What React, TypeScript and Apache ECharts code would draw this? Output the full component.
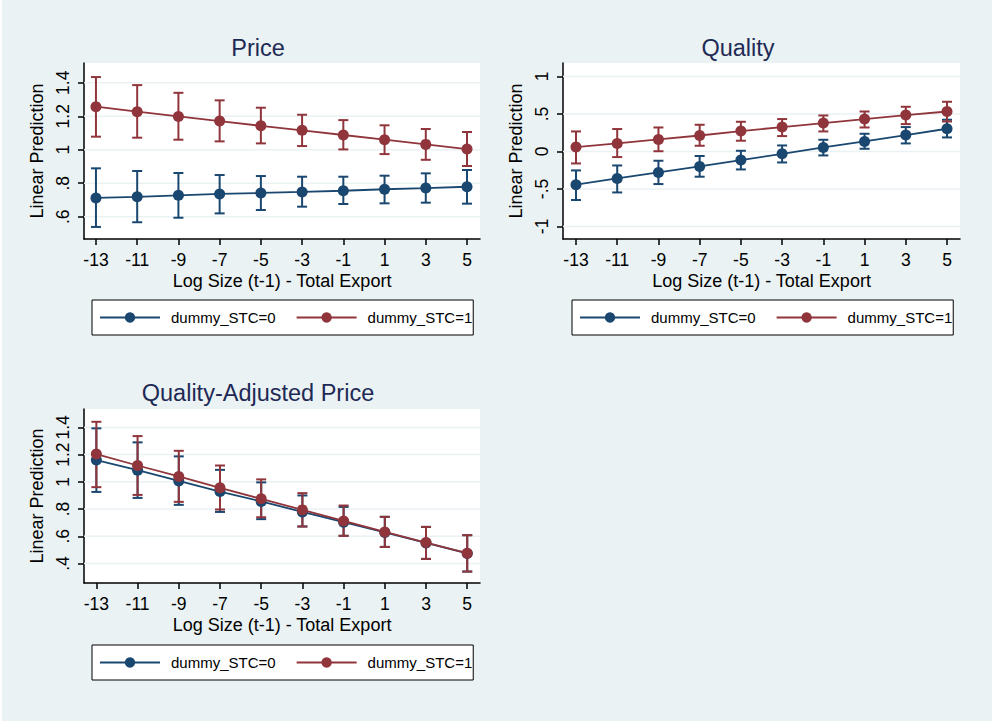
import React, { useEffect, useRef } from "react";
import * as echarts from "echarts";

// Margins at each level of log size (t-1)
const xValues = [-13, -11, -9, -7, -5, -3, -1, 1, 3, 5];

// Price
const priceStc0 = [0.712, 0.719, 0.728, 0.736, 0.742, 0.748, 0.755, 0.764, 0.771, 0.779];
const priceStc0Lo = [0.539, 0.567, 0.594, 0.62, 0.64, 0.66, 0.676, 0.68, 0.684, 0.678];
const priceStc0Hi = [0.889, 0.873, 0.861, 0.849, 0.843, 0.839, 0.839, 0.845, 0.859, 0.879];
const priceStc1 = [1.257, 1.227, 1.199, 1.171, 1.143, 1.116, 1.088, 1.06, 1.032, 1.004];
const priceStc1Lo = [1.078, 1.072, 1.06, 1.05, 1.038, 1.022, 1.002, 0.974, 0.94, 0.903];
const priceStc1Hi = [1.434, 1.386, 1.34, 1.295, 1.251, 1.209, 1.177, 1.146, 1.124, 1.106];

// Quality
const qualityStc0 = [-0.444, -0.36, -0.28, -0.2, -0.115, -0.031, 0.053, 0.133, 0.219, 0.303];
const qualityStc0Lo = [-0.648, -0.547, -0.435, -0.337, -0.24, -0.147, -0.053, 0.036, 0.107, 0.187];
const qualityStc0Hi = [-0.253, -0.187, -0.124, -0.061, 0.009, 0.08, 0.156, 0.236, 0.325, 0.423];
const qualityStc1 = [0.058, 0.107, 0.16, 0.213, 0.272, 0.325, 0.379, 0.432, 0.485, 0.533];
const qualityStc1Lo = [-0.16, -0.075, 0.003, 0.076, 0.143, 0.205, 0.267, 0.32, 0.365, 0.4];
const qualityStc1Hi = [0.267, 0.299, 0.32, 0.356, 0.396, 0.432, 0.48, 0.533, 0.596, 0.663];

// Quality-adjusted price
const qaStc0 = [1.16, 1.086, 1.007, 0.929, 0.856, 0.779, 0.704, 0.628, 0.551, 0.474];
const qaStc0Lo = [0.926, 0.882, 0.831, 0.779, 0.726, 0.672, 0.604, 0.522, 0.434, 0.341];
const qaStc0Hi = [1.393, 1.29, 1.187, 1.088, 0.996, 0.9, 0.816, 0.743, 0.669, 0.608];
const qaStc1 = [1.204, 1.12, 1.04, 0.956, 0.875, 0.794, 0.713, 0.632, 0.554, 0.476];
const qaStc1Lo = [0.961, 0.904, 0.853, 0.797, 0.74, 0.672, 0.603, 0.522, 0.434, 0.341];
const qaStc1Hi = [1.441, 1.336, 1.228, 1.12, 1.018, 0.917, 0.826, 0.743, 0.669, 0.608];

// Axis ticks and labels
const xTicks = [-13, -11, -9, -7, -5, -3, -1, 1, 3, 5];
const priceTicks = [0.6, 0.8, 1, 1.2, 1.4];
const priceTickLabels = [".6", ".8", "1", "1.2", "1.4"];
const qualityTicks = [-1, -0.5, 0, 0.5, 1];
const qualityTickLabels = ["-1", "-.5", "0", ".5", "1"];
const qaTicks = [0.4, 0.6, 0.8, 1, 1.2, 1.4];
const qaTickLabels = [".4", ".6", ".8", "1", "1.2", "1.4"];

const titles = ["Price", "Quality", "Quality-Adjusted Price"];
const groupNames = ["dummy_STC=0", "dummy_STC=1"];

const BLUE = "#1a476f";
const RED = "#90353b";
const BG = "#eaf2f3";
const TITLE = "#1e2a55";
const FONT = "'Liberation Sans', Arial, sans-serif";

type Panel = {
  title: string;
  grid: { left: number; top: number; width: number; height: number };
  xRange: [number, number];
  yRange: [number, number];
  yTicks: number[];
  yLabels: string[];
  groups: { mid: number[]; lo: number[]; hi: number[] }[];
  titlePos: [number, number];
  legendPos: [number, number];
};

const panels: Panel[] = [
  {
    title: titles[0],
    grid: { left: 84, top: 63, width: 396, height: 176 },
    xRange: [-13.58, 5.63],
    yRange: [0.467, 1.518],
    yTicks: priceTicks,
    yLabels: priceTickLabels,
    groups: [
      { mid: priceStc0, lo: priceStc0Lo, hi: priceStc0Hi },
      { mid: priceStc1, lo: priceStc1Lo, hi: priceStc1Hi },
    ],
    titlePos: [258, 48],
    legendPos: [92, 300],
  },
  {
    title: titles[1],
    grid: { left: 563, top: 63, width: 397, height: 176 },
    xRange: [-13.63, 5.63],
    yRange: [-1.168, 1.18],
    yTicks: qualityTicks,
    yLabels: qualityTickLabels,
    groups: [
      { mid: qualityStc0, lo: qualityStc0Lo, hi: qualityStc0Hi },
      { mid: qualityStc1, lo: qualityStc1Lo, hi: qualityStc1Hi },
    ],
    titlePos: [738, 48],
    legendPos: [572, 300],
  },
  {
    title: titles[2],
    grid: { left: 84, top: 409, width: 396, height: 174 },
    xRange: [-13.6, 5.62],
    yRange: [0.257, 1.535],
    yTicks: qaTicks,
    yLabels: qaTickLabels,
    groups: [
      { mid: qaStc0, lo: qaStc0Lo, hi: qaStc0Hi },
      { mid: qaStc1, lo: qaStc1Lo, hi: qaStc1Hi },
    ],
    titlePos: [258, 393],
    legendPos: [92, 645],
  },
];

const colors = [BLUE, RED];

function buildOption() {
  const grid: any[] = [];
  const xAxis: any[] = [];
  const yAxis: any[] = [];
  const series: any[] = [];
  const legend: any[] = [];
  const graphic: any[] = [
    { type: "rect", left: 0, top: 0, shape: { width: 2, height: 721 }, style: { fill: "#ffffff" }, silent: true },
  ];

  panels.forEach((p, i) => {
    grid.push({ ...p.grid, show: true, backgroundColor: "#ffffff", borderWidth: 0, containLabel: false });

    xAxis.push({
      type: "value",
      gridIndex: i,
      min: p.xRange[0],
      max: p.xRange[1],
      name: "Log Size (t-1) - Total Export",
      nameLocation: "middle",
      nameGap: 33,
      nameTextStyle: { fontFamily: FONT, fontSize: 18, color: "#000" },
      axisLine: { show: true, onZero: false, lineStyle: { color: "#000", width: 1.5 } },
      axisTick: { show: true, length: 6, customValues: xTicks, lineStyle: { color: "#000", width: 1.5 } },
      axisLabel: {
        customValues: xTicks,
        margin: 12,
        fontFamily: FONT,
        fontSize: 17.5,
        color: "#000",
      },
      splitLine: { show: false },
    });

    yAxis.push({
      type: "value",
      gridIndex: i,
      min: p.yRange[0],
      max: p.yRange[1],
      name: "Linear Prediction",
      nameLocation: "middle",
      nameRotate: 90,
      nameGap: 38,
      nameTextStyle: { fontFamily: FONT, fontSize: 18, color: "#000" },
      axisLine: { show: true, onZero: false, lineStyle: { color: "#000", width: 1.5 } },
      axisTick: { show: true, length: 6, customValues: p.yTicks, lineStyle: { color: "#000", width: 1.5 } },
      axisLabel: {
        customValues: p.yTicks,
        rotate: 90,
        margin: 12,
        fontFamily: FONT,
        fontSize: 17.5,
        color: "#000",
        formatter: (v: number) => {
          const k = p.yTicks.findIndex((t) => Math.abs(t - v) < 1e-9);
          return k >= 0 ? p.yLabels[k] : "";
        },
      },
      splitLine: { show: false },
    });

    // horizontal grid lines at the labelled y values
    series.push({
      type: "custom",
      name: "grid-" + i,
      xAxisIndex: i,
      yAxisIndex: i,
      z: 1,
      silent: true,
      data: p.yTicks.map((v) => [p.xRange[0], v, p.xRange[1]]),
      encode: { x: [0, 2], y: 1 },
      renderItem: (_params: any, api: any) => {
        const a = api.coord([api.value(0), api.value(1)]);
        const b = api.coord([api.value(2), api.value(1)]);
        return {
          type: "line",
          shape: { x1: a[0], y1: a[1], x2: b[0], y2: b[1] },
          style: { stroke: BG, lineWidth: 1.5 },
        };
      },
    });

    // confidence intervals (capped spikes)
    p.groups.forEach((g, k) => {
      const color = colors[k];
      series.push({
        type: "custom",
        name: groupNames[k] + " CI " + i,
        xAxisIndex: i,
        yAxisIndex: i,
        z: 2,
        silent: true,
        data: xValues.map((x, j) => [x, g.lo[j], g.hi[j]]),
        encode: { x: 0, y: [1, 2] },
        renderItem: (_params: any, api: any) => {
          const x = api.value(0);
          const lo = api.coord([x, api.value(1)]);
          const hi = api.coord([x, api.value(2)]);
          const w = 5;
          const st = { stroke: color, lineWidth: 2 };
          return {
            type: "group",
            children: [
              { type: "line", shape: { x1: hi[0], y1: hi[1], x2: lo[0], y2: lo[1] }, style: st },
              { type: "line", shape: { x1: hi[0] - w, y1: hi[1], x2: hi[0] + w, y2: hi[1] }, style: st },
              { type: "line", shape: { x1: lo[0] - w, y1: lo[1], x2: lo[0] + w, y2: lo[1] }, style: st },
            ],
          };
        },
      });
    });

    // predicted margins
    p.groups.forEach((g, k) => {
      series.push({
        type: "line",
        name: groupNames[k],
        xAxisIndex: i,
        yAxisIndex: i,
        z: 3 + k,
        data: xValues.map((x, j) => [x, g.mid[j]]),
        symbol: "circle",
        symbolSize: 11,
        showSymbol: true,
        lineStyle: { color: colors[k], width: 1.8 },
        itemStyle: { color: colors[k], borderWidth: 0 },
      });
    });

    legend.push({
      left: p.legendPos[0],
      top: p.legendPos[1],
      orient: "horizontal",
      data: groupNames,
      itemWidth: 60,
      itemHeight: 13,
      itemGap: 20,
      padding: [10, 1, 10, 7],
      backgroundColor: "#ffffff",
      borderColor: "#000",
      borderWidth: 1,
      borderRadius: 0,
      selectedMode: false,
      textStyle: { fontFamily: FONT, fontSize: 15, color: "#000", padding: [0, 0, 0, 6] },
    });

    graphic.push({
      type: "text",
      x: p.titlePos[0],
      y: p.titlePos[1],
      style: {
        text: p.title,
        fontFamily: FONT,
        fontSize: 23.5,
        fill: TITLE,
        textAlign: "center",
        textVerticalAlign: "middle",
      },
      silent: true,
    });
  });

  return {
    animation: false,
    backgroundColor: BG,
    grid,
    xAxis,
    yAxis,
    series,
    legend,
    graphic,
    tooltip: { show: false },
  };
}

export default function App() {
  const ref = useRef<HTMLDivElement>(null);

  useEffect(() => {
    if (!ref.current) return;
    const chart = echarts.init(ref.current, undefined, { renderer: "svg" });
    chart.setOption(buildOption() as any);
    return () => chart.dispose();
  }, []);

  return (
    <div
      ref={ref}
      style={{ position: "absolute", left: 0, top: 0, width: 992, height: 721 }}
    />
  );
}
